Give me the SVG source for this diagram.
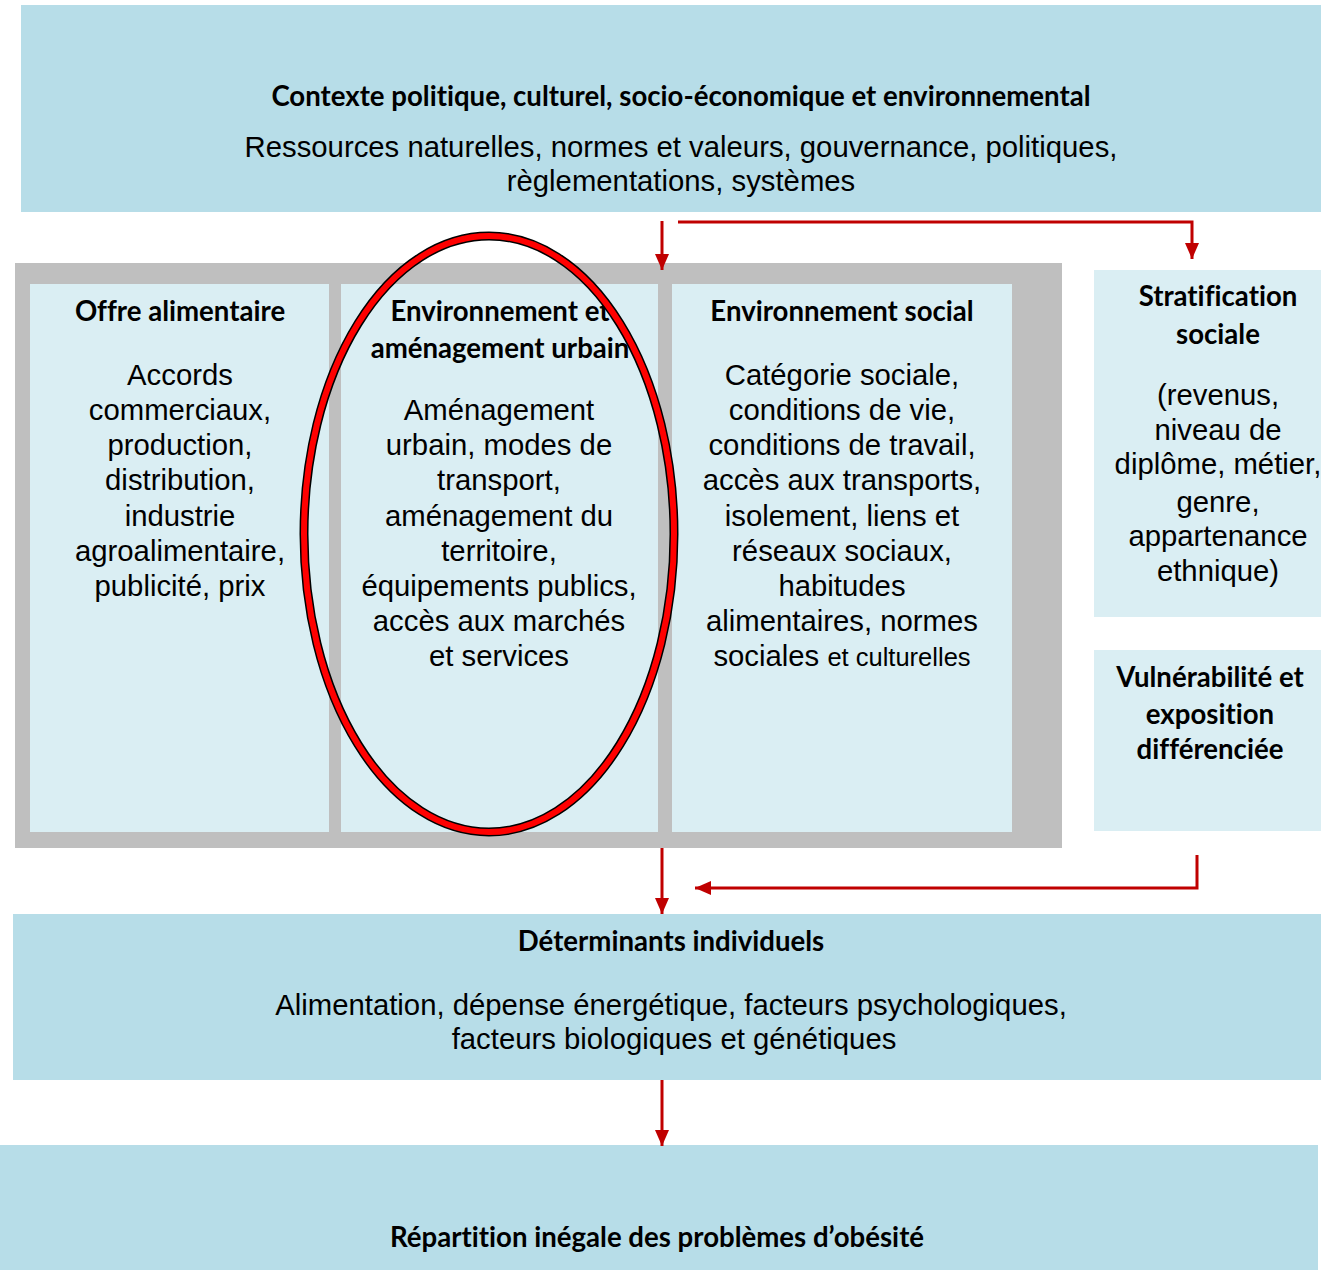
<svg xmlns="http://www.w3.org/2000/svg" width="1321" height="1270" viewBox="0 0 1321 1270">
<style>
.dark{fill:#b7dde8}
.light{fill:#daeef3}
.frame{fill:#bfbfbf}
.h{font-family:Lato,"Open Sans","DejaVu Sans",sans-serif;font-weight:bold;font-size:27.6px;fill:#000;text-anchor:middle;font-variant-ligatures:none}
.b{font-family:"Liberation Sans",Arial,sans-serif;font-size:29.3px;fill:#000;text-anchor:middle}
.conn{fill:none;stroke:#c00000;stroke-width:3;marker-end:url(#ah)}
</style>
<defs>
<marker id="ah" markerUnits="userSpaceOnUse" markerWidth="17" markerHeight="14" refX="16" refY="7" orient="auto">
<path d="M0,0 L16,7 L0,14 z" fill="#c00000"/>
</marker>
</defs>
<rect x="0" y="0" width="1321" height="1270" fill="#fff"/>

<g id="contexte">
<rect class="dark" x="21" y="5" width="1300" height="207"/>
<text class="h" x="681" y="106">Contexte politique, culturel, socio-économique et environnemental</text>
<text class="b" x="681" y="157">Ressources naturelles, normes et valeurs, gouvernance, politiques,</text>
<text class="b" x="681" y="191">règlementations, systèmes</text>
</g>

<g id="cadre">
<rect class="frame" x="15" y="263" width="1047" height="585"/>
</g>

<g id="offre">
<rect class="light" x="30" y="284" width="299" height="548"/>
<text class="h" x="180" y="321">Offre alimentaire</text>
<text class="b" x="180" y="385">Accords</text>
<text class="b" x="180" y="420">commerciaux,</text>
<text class="b" x="180" y="455">production,</text>
<text class="b" x="180" y="490">distribution,</text>
<text class="b" x="180" y="526">industrie</text>
<text class="b" x="180" y="561">agroalimentaire,</text>
<text class="b" x="180" y="596">publicité, prix</text>
</g>

<g id="urbain">
<rect class="light" x="341" y="284" width="317" height="548"/>
<text class="h" x="500" y="321">Environnement et</text>
<text class="h" x="500" y="358">aménagement urbain</text>
<text class="b" x="499" y="420">Aménagement</text>
<text class="b" x="499" y="455">urbain, modes de</text>
<text class="b" x="499" y="490">transport,</text>
<text class="b" x="499" y="526">aménagement du</text>
<text class="b" x="499" y="561">territoire,</text>
<text class="b" x="499" y="596">équipements publics,</text>
<text class="b" x="499" y="631">accès aux marchés</text>
<text class="b" x="499" y="666">et services</text>
</g>

<g id="social">
<rect class="light" x="672" y="284" width="340" height="548"/>
<text class="h" x="842" y="321">Environnement social</text>
<text class="b" x="842" y="385">Catégorie sociale,</text>
<text class="b" x="842" y="420">conditions de vie,</text>
<text class="b" x="842" y="455">conditions de travail,</text>
<text class="b" x="842" y="490">accès aux transports,</text>
<text class="b" x="842" y="526">isolement, liens et</text>
<text class="b" x="842" y="561">réseaux sociaux,</text>
<text class="b" x="842" y="596">habitudes</text>
<text class="b" x="842" y="631">alimentaires, normes</text>
<text class="b" x="842" y="666">sociales <tspan font-size="25.5">et culturelles</tspan></text>
</g>

<g id="stratification">
<rect class="light" x="1094" y="270" width="227" height="347"/>
<text class="h" x="1218" y="306">Stratification</text>
<text class="h" x="1218" y="344">sociale</text>
<text class="b" x="1218" y="405">(revenus,</text>
<text class="b" x="1218" y="440">niveau de</text>
<text class="b" x="1218" y="474">diplôme, métier,</text>
<text class="b" x="1218" y="512">genre,</text>
<text class="b" x="1218" y="546">appartenance</text>
<text class="b" x="1218" y="581">ethnique)</text>
</g>

<g id="vulnerabilite">
<rect class="light" x="1094" y="650" width="227" height="181"/>
<text class="h" x="1210" y="687">Vulnérabilité et</text>
<text class="h" x="1210" y="724">exposition</text>
<text class="h" x="1210" y="759">différenciée</text>
</g>

<g id="determinants">
<rect class="dark" x="13" y="914" width="1308" height="166"/>
<text class="h" x="671" y="951">Déterminants individuels</text>
<text class="b" x="671" y="1015">Alimentation, dépense énergétique, facteurs psychologiques,</text>
<text class="b" x="674" y="1049">facteurs biologiques et génétiques</text>
</g>

<g id="repartition">
<rect class="dark" x="0" y="1145" width="1318" height="125"/>
<text class="h" x="657" y="1247">Répartition inégale des problèmes d’obésité</text>
</g>

<g id="ellipse">
<ellipse cx="489" cy="534" rx="185" ry="298" fill="none" stroke="#000" stroke-width="9"/>
<ellipse cx="489" cy="534" rx="185" ry="298" fill="none" stroke="#ff0000" stroke-width="6"/>
</g>

<g id="connecteurs">
<path class="conn" d="M662,221 L662,270"/>
<path class="conn" d="M678,222 L1192,222 L1192,259"/>
<path class="conn" d="M662,848 L662,914"/>
<path class="conn" d="M1197,855 L1197,888 L695,888"/>
<path class="conn" d="M662,1080 L662,1146"/>
</g>
</svg>
